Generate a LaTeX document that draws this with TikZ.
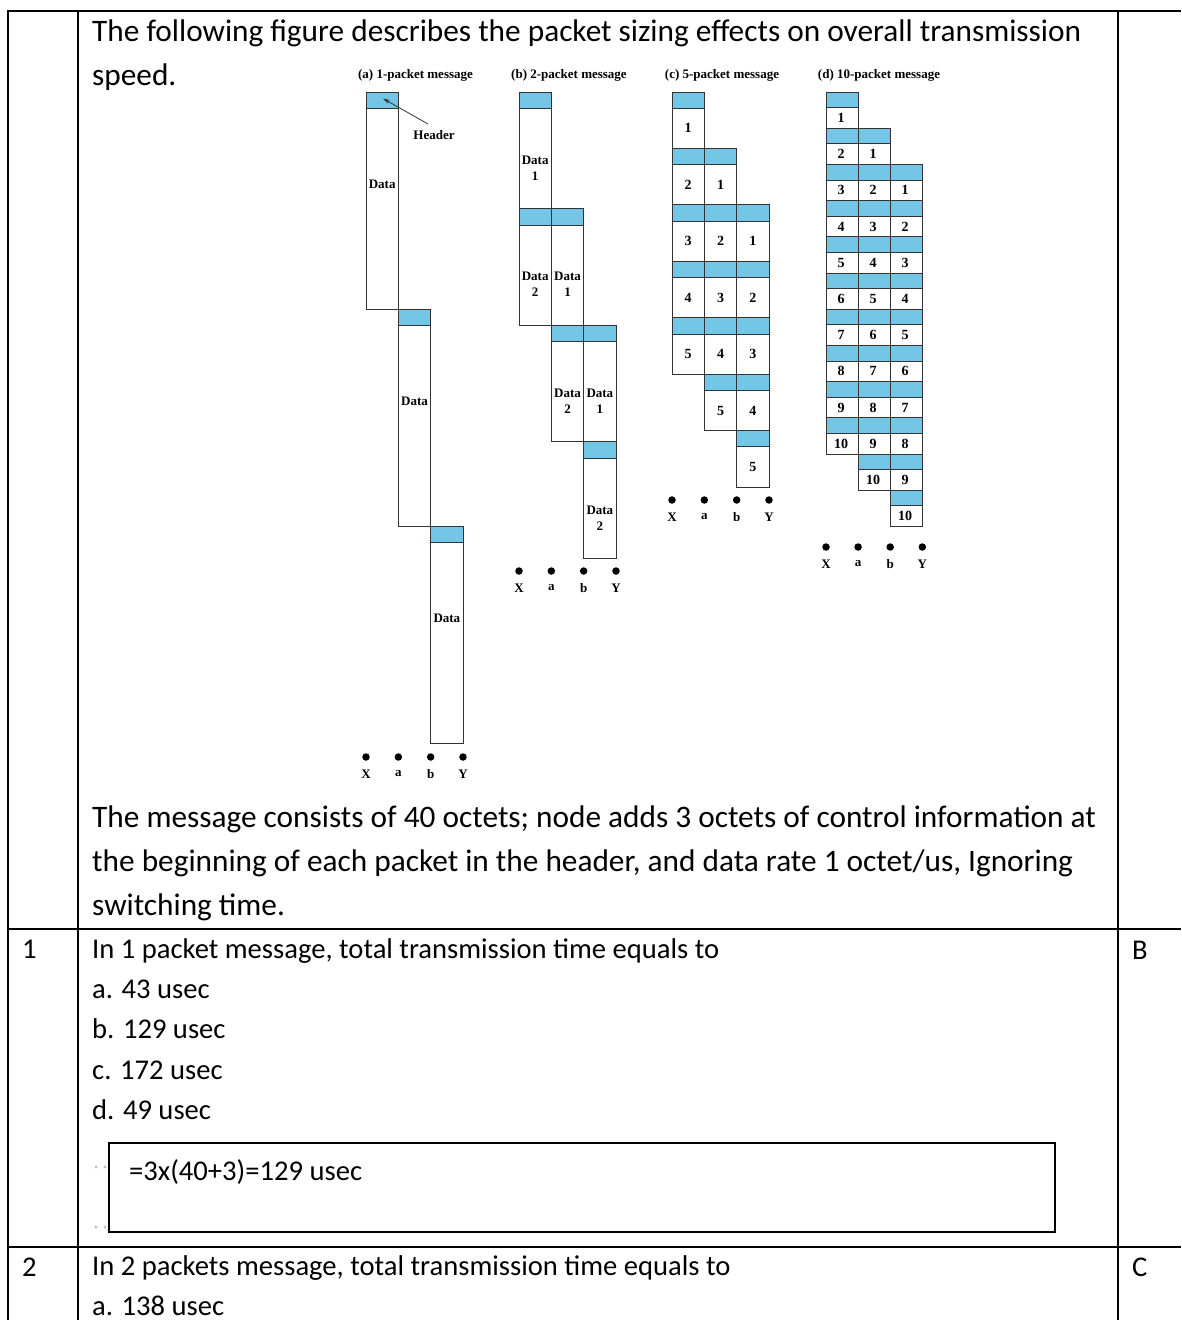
\documentclass[tikz,border=0pt]{standalone}
\usepackage{fontspec}
\setmainfont{Carlito}
\newfontfamily\figfont{Liberation Serif}
\usetikzlibrary{arrows.meta}
\definecolor{pktblue}{RGB}{115,198,229}
\begin{document}
\begin{tikzpicture}[x=1pt,y=-1pt,
  rule/.style={line width=1.8pt,black},
  txt/.style={anchor=base west,inner sep=0pt,font=\fontsize{28.6}{28.6}\selectfont},
  btxt/.style={anchor=base west,inner sep=0pt,font=\fontsize{31.3}{31.3}\selectfont},
  hdr/.style={fill=pktblue,draw=black!80,line width=0.9pt},
  dat/.style={fill=white,draw=black!80,line width=0.9pt},
  flab/.style={font=\figfont\bfseries\fontsize{13}{16}\selectfont,inner sep=0pt,align=center},
  numlab/.style={font=\figfont\bfseries\fontsize{14}{16}\selectfont,inner sep=0pt},
  ttl/.style={font=\figfont\bfseries\fontsize{13}{15}\selectfont,inner sep=0pt},
  dotn/.style={circle,fill=black,inner sep=0pt,minimum size=7.5pt},
]
\useasboundingbox (0,0) rectangle (1181,1320);
% table rules
\draw[rule] (8,11) -- (1181,11);
\draw[rule] (8,929) -- (1181,929);
\draw[rule] (8,1247) -- (1181,1247);
\draw[rule] (8,10) -- (8,1320);
\draw[rule] (78,10) -- (78,1320);
\draw[rule] (1118,10) -- (1118,1320);
% intro text
\node[btxt] (t1) at (92,41) {The following figure describes the packet sizing effects on overall transmission};
\node[btxt] (t2) at (92,85) {speed.};
\node[btxt] (t3) at (92,827) {The message consists of 40 octets; node adds 3 octets of control information at};
\node[btxt] (t4) at (92,871) {the beginning of each packet in the header, and data rate 1 octet/us, Ignoring};
\node[btxt] (t5) at (92,915) {switching time.};
% question 1
\node[txt] (n1) at (22,958) {1};
\node[txt] (q1) at (92,958) {In 1 packet message, total transmission time equals to};
\node[txt] (q1a) at (92,998) {a. 43 usec};
\node[txt] (q1b) at (92,1038) {b. 129 usec};
\node[txt] (q1c) at (92,1079) {c. 172 usec};
\node[txt] (q1d) at (92,1119) {d. 49 usec};
\node[txt] (ans1) at (1132,959) {B};
\draw[line width=1.5pt] (109,1143) rectangle (1055,1232);
\node[txt] (sol1) at (129,1180) {=3x(40+3)=129 usec};
\fill[black!25] (96,1167) circle (1.6) (105,1167) circle (1.6) (96,1227) circle (1.6) (105,1227) circle (1.6);
% question 2
\node[txt] (n2) at (22,1276) {2};
\node[txt] (q2) at (92,1275) {In 2 packets message, total transmission time equals to};
\node[txt] (q2a) at (92,1315) {a. 138 usec};
\node[txt] (ans2) at (1132,1276) {C};
% ---- figure titles
\node[ttl] (ta) at (415.5,75) {(a) 1-packet message};
\node[ttl] (tb) at (569,75) {(b) 2-packet message};
\node[ttl] (tc) at (722,75) {(c) 5-packet message};
\node[ttl] (td) at (879,75) {(d) 10-packet message};
% (a) 1-packet
\foreach \j in {0,1,2} {
  \pgfmathsetmacro\xl{366+32.33*\j}
  \pgfmathsetmacro\yt{92+217*\j}
  \draw[hdr] (\xl,\yt) rectangle ++(32.33,16.5);
  \draw[dat] (\xl,\yt+16.5) rectangle ++(32.33,200.5);
  \node[flab] (ad\j) at (\xl+16.2,\yt+92.5) {Data};
}
\node[flab] (hdrlab) at (434,135) {Header};
\coordinate (hdrtail) at (428,124);
\coordinate (hdrtip) at (383,98.5);
\draw[-{Stealth[length=7pt,width=4pt]},line width=0.8pt,black!80] (hdrtail) -- (hdrtip);
% (b) 2-packet
\foreach \p in {0,1} \foreach \j in {0,1,2} {
  \pgfmathtruncatemacro\num{\p+1}
  \pgfmathsetmacro\xl{519+32.33*\j}
  \pgfmathsetmacro\yt{92+116.6*(\p+\j)}
  \draw[hdr] (\xl,\yt) rectangle ++(32.33,16.5);
  \draw[dat] (\xl,\yt+16.5) rectangle ++(32.33,100.1);
  \node[flab] (bd\p\j) at (\xl+16.2,\yt+76) {Data\\\num};
}
% (c) 5-packet
\foreach \p in {0,...,4} \foreach \j in {0,1,2} {
  \pgfmathtruncatemacro\num{\p+1}
  \pgfmathsetmacro\xl{672+32.33*\j}
  \pgfmathsetmacro\yt{92+56.45*(\p+\j)}
  \draw[hdr] (\xl,\yt) rectangle ++(32.33,16.2);
  \draw[dat] (\xl,\yt+16.2) rectangle ++(32.33,40.25);
  \node[numlab] (cd\p\j) at (\xl+16.2,\yt+36.3) {\num};
}
% (d) 10-packet
\foreach \p in {0,...,9} \foreach \j in {0,1,2} {
  \pgfmathtruncatemacro\num{\p+1}
  \pgfmathsetmacro\xl{826+32.1*\j}
  \pgfmathsetmacro\yt{92+36.2*(\p+\j)}
  \draw[hdr] (\xl,\yt) rectangle ++(32.1,15.7);
  \draw[dat] (\xl,\yt+15.7) rectangle ++(32.1,20.5);
  \node[numlab] (dd\p\j) at (\xl+15,\yt+25.9) {\num};
}
% node dots and labels
\foreach \lab [count=\i from 0] in {X,a,b,Y} {
  \node[dotn] (adot\i) at (366+32.33*\i,757) {};
  \node[flab] (alab\i) at (366+32.33*\i,774) {\lab};
  \node[dotn] (bdot\i) at (519+32.33*\i,571) {};
  \node[flab] (blab\i) at (519+32.33*\i,588) {\lab};
  \node[dotn] (cdot\i) at (672+32.33*\i,500) {};
  \node[flab] (clab\i) at (672+32.33*\i,517) {\lab};
  \node[dotn] (ddot\i) at (826+32.1*\i,547) {};
  \node[flab] (dlab\i) at (826+32.1*\i,564) {\lab};
}
\end{tikzpicture}
\end{document}
